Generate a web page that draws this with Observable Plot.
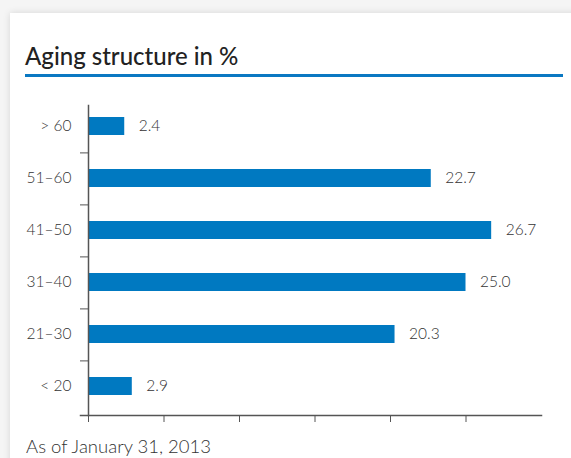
<!DOCTYPE html>
<html>
<head>
<meta charset="utf-8">
<script src="https://cdn.jsdelivr.net/npm/d3@7"></script>
<script src="https://cdn.jsdelivr.net/npm/@observablehq/plot@0.6"></script>
<style>
  html, body { margin: 0; padding: 0; background: #f5f5f5; width: 571px; height: 458px; overflow: hidden; }
  #card { position: absolute; left: 10px; top: 13px; width: 600px; height: 500px; background: #fff; box-shadow: 0 0 7px rgba(0,0,0,0.13); }
  #title { position: absolute; left: 25px; top: 41px; font-family: Lato, sans-serif; font-weight: 500; font-size: 24px; color: #222; white-space: nowrap; }
  #rule { position: absolute; left: 25px; top: 74px; width: 538px; height: 3px; background: #0a78c2; }
  #chart { position: absolute; left: 0; top: 90px; }
  #note { position: absolute; left: 26px; top: 435px; font-family: Lato, sans-serif; font-weight: 300; font-size: 18.5px; color: #333; white-space: nowrap; }
</style>
</head>
<body>
<div id="card"></div>
<div id="title">Aging structure in %</div>
<div id="rule"></div>
<div id="chart"></div>
<div id="note">As of January 31, 2013</div>
<script>
const categories = ["> 60", "51–60", "41–50", "31–40", "21–30", "< 20"];
const values = [2.4, 22.7, 26.7, 25.0, 20.3, 2.9];
const xTicks = [0, 5, 10, 15, 20, 25];

const data = categories.map((c, i) => ({ age: c, value: values[i] }));
const blue = "#0079c1";
const axisColor = "#555";

const chart = Plot.plot({
  width: 571,
  height: 345,
  marginLeft: 88,
  marginRight: 30,
  marginTop: 8,
  marginBottom: 20,
  style: { fontFamily: "Lato, sans-serif", fontSize: "15px", fontWeight: 300, color: "#333", background: "transparent" },
  x: { domain: [0, 30] },
  y: { type: "band", domain: categories, paddingInner: 0.65, paddingOuter: 0.325 },
  marks: [
    Plot.barX(data, { x: "value", y: "age", fill: blue }),
    Plot.text(data, { x: "value", y: "age", text: d => d.value.toFixed(1), textAnchor: "start", dx: 14, fill: "#333", fontSize: 15.5 }),
    Plot.axisY({ tickSize: 0, tickPadding: 17, fontSize: 15.5, fill: "#333", label: null }),
    Plot.axisY({ ticks: categories.slice(0, -1), text: null, tickSize: 8, dy: 26.4, stroke: axisColor, label: null }),
    Plot.axisX({ ticks: xTicks, tickSize: 7, text: null, stroke: axisColor, label: null }),
    Plot.frame({ anchor: "bottom", insetLeft: -8, stroke: axisColor, strokeWidth: 1.5 }),
    Plot.frame({ anchor: "left", insetTop: 7, stroke: axisColor, strokeWidth: 1.5 })
  ]
});
document.getElementById("chart").appendChild(chart);
</script>
</body>
</html>
